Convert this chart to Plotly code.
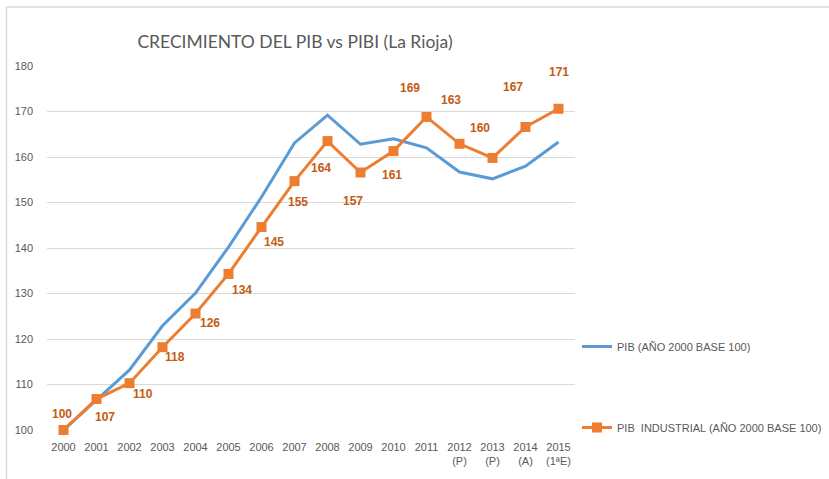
import plotly.graph_objects as go

years = ["2000", "2001", "2002", "2003", "2004", "2005", "2006", "2007",
         "2008", "2009", "2010", "2011", "2012<br>(P)", "2013<br>(P)",
         "2014<br>(A)", "2015<br>(1ªE)"]
pib = [100, 106.5, 113.2, 122.9, 130.1, 140.2, 151.2, 163.1,
       169.2, 162.8, 164.0, 162.0, 156.7, 155.2, 158.0, 163.3]
pibi = [100, 106.8, 110.3, 118.2, 125.6, 134.3, 144.6, 154.7,
        163.5, 156.6, 161.3, 168.8, 162.9, 159.8, 166.6, 170.6]

# label offsets in pixels (style only)
label_dx = [-2, 8, 13, 12, 14, 13, 12, 3, -7, -8, -2, -17, -9, -13, -13, 0]
label_dy = [16, -18, -11, -10, -9, -16, -15, -21, -27, -29, -24, 29, 44, 30, 40, 37]

BLUE = "#5B9BD5"
ORANGE = "#ED7D31"
LABEL = "#C55A11"
GRAY = "#595959"
FONT = "Liberation Sans, Arial, sans-serif"

fig = go.Figure()
fig.add_trace(go.Scatter(
    x=years, y=pib, mode="lines", name="PIB (AÑO 2000 BASE 100)",
    line=dict(color=BLUE, width=3), legendgroup="a", cliponaxis=False))
fig.add_trace(go.Scatter(
    x=years, y=pibi, mode="lines+markers", name="PIB  INDUSTRIAL (AÑO 2000 BASE 100)",
    line=dict(color=ORANGE, width=3),
    marker=dict(symbol="square", size=10, color=ORANGE),
    legendgroup="b", cliponaxis=False))

for i, yv in enumerate(pibi):
    fig.add_annotation(x=i, y=yv, xref="x", yref="y", text=f"<b>{round(yv)}</b>",
                       showarrow=False, xshift=label_dx[i], yshift=label_dy[i],
                       font=dict(family=FONT, size=12, color=LABEL))

fig.update_layout(
    template="none",
    width=829, height=479,
    paper_bgcolor="white", plot_bgcolor="white",
    margin=dict(l=47, r=254, t=66, b=49),
    title=dict(text="CRECIMIENTO DEL PIB vs PIBI (La Rioja)",
               x=295 / 829, xanchor="center", xref="container",
               y=1 - 42 / 479, yanchor="middle", yref="container",
               font=dict(family="Lato, Open Sans, sans-serif", size=17.5, color=GRAY)),
    xaxis=dict(type="category", range=[-0.5, 15.5], showgrid=False,
               showline=False, ticks="", zeroline=False,
               ticklabelstandoff=9,
               tickfont=dict(family=FONT, size=11, color=GRAY)),
    yaxis=dict(range=[100, 180], dtick=10, showgrid=True, gridcolor="#D9D9D9",
               gridwidth=1, zeroline=False, showline=False, ticks="",
               ticklabelstandoff=13,
               tickfont=dict(family=FONT, size=11, color=GRAY)),
    legend=dict(x=577 / 829, xref="container", xanchor="left",
                y=1 - 332 / 479, yref="container", yanchor="top",
                tracegroupgap=62, itemwidth=30,
                font=dict(family=FONT, size=11, color=GRAY),
                bgcolor="rgba(0,0,0,0)"),
    shapes=[dict(type="line", xref="paper", yref="paper",
                 x0=(6.5 - 47) / 528, x1=(6.5 - 47) / 528,
                 y0=-1, y1=1 + (66 - 7) / 364,
                 line=dict(color="#D9D9D9", width=1.5)),
            dict(type="line", xref="paper", yref="paper",
                 x0=(6.5 - 47) / 528, x1=2,
                 y0=1 + (66 - 7) / 364, y1=1 + (66 - 7) / 364,
                 line=dict(color="#D9D9D9", width=1.5))],
)

fig.write_html("out.html", config={"displayModeBar": False},
               post_script="document.body.style.margin='0';document.body.style.overflow='hidden';")
